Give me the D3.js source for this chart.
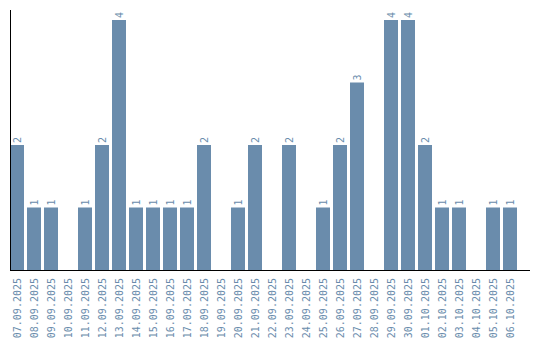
<!DOCTYPE html>
<html>
<head>
<meta charset="utf-8">
<script src="https://cdn.jsdelivr.net/npm/d3@7"></script>
<style>
  body { margin: 0; background: #fff; }
  text { font-family: "DejaVu Sans Mono", monospace; }
</style>
</head>
<body>
<div id="chart"></div>
<script>
const fechas = [
    "07.09.2025", "08.09.2025", "09.09.2025", "10.09.2025", "11.09.2025",
    "12.09.2025", "13.09.2025", "14.09.2025", "15.09.2025", "16.09.2025",
    "17.09.2025", "18.09.2025", "19.09.2025", "20.09.2025", "21.09.2025",
    "22.09.2025", "23.09.2025", "24.09.2025", "25.09.2025", "26.09.2025",
    "27.09.2025", "28.09.2025", "29.09.2025", "30.09.2025", "01.10.2025",
    "02.10.2025", "03.10.2025", "04.10.2025", "05.10.2025", "06.10.2025"
];
const valores = [2, 1, 1, 0, 1, 2, 4, 1, 1, 1, 1, 2, 0, 1, 2, 0, 2, 0, 1, 2, 3, 0, 4, 4, 2, 1, 1, 0, 1, 1];

const datos = fechas.map((f, i) => ({ fecha: f, valor: valores[i] }));

const svgWidth = 540, svgHeight = 340;
const color = "#6a8cac";

const svg = d3.select("#chart")
    .append("svg")
    .attr("width", svgWidth)
    .attr("height", svgHeight);

const x = d3.scaleBand()
    .domain(fechas)
    .range([10, 517])
    .paddingInner(3 / 17)
    .paddingOuter(0);

const y = d3.scaleLinear()
    .domain([0, 4.16])
    .range([270, 10]);

// Barras
svg.selectAll(".bar")
    .data(datos.filter(d => d.valor > 0))
    .enter().append("rect")
    .attr("class", "bar")
    .attr("x", d => x(d.fecha))
    .attr("y", d => y(d.valor))
    .attr("width", x.bandwidth())
    .attr("height", d => y(0) - y(d.valor))
    .attr("fill", color);

// Etiquetas de valor
svg.selectAll(".etiqueta")
    .data(datos.filter(d => d.valor > 0))
    .enter().append("text")
    .attr("class", "etiqueta")
    .attr("transform", d => `translate(${x(d.fecha) + x.bandwidth() / 2 + 3.5}, ${y(d.valor) - 2}) rotate(-90)`)
    .attr("font-size", 10)
    .attr("fill", color)
    .text(d => d.valor);

// Eje X (etiquetas)
const ejeX = svg.append("g")
    .attr("transform", `translate(0, 270)`)
    .call(d3.axisBottom(x).tickSize(0));
ejeX.select(".domain").remove();
ejeX.selectAll("text")
    .attr("transform", "rotate(-90)")
    .attr("x", -8)
    .attr("y", 0)
    .attr("dy", "0.35em")
    .style("text-anchor", "end")
    .style("font-size", "10px")
    .style("font-family", "'DejaVu Sans Mono', monospace")
    .attr("fill", color);

// Líneas de ejes
svg.append("line")
    .attr("x1", 10).attr("x2", 530)
    .attr("y1", 270.5).attr("y2", 270.5)
    .attr("stroke", "#000");
svg.append("line")
    .attr("x1", 10.5).attr("x2", 10.5)
    .attr("y1", 10).attr("y2", 270)
    .attr("stroke", "#000");
</script>
</body>
</html>
